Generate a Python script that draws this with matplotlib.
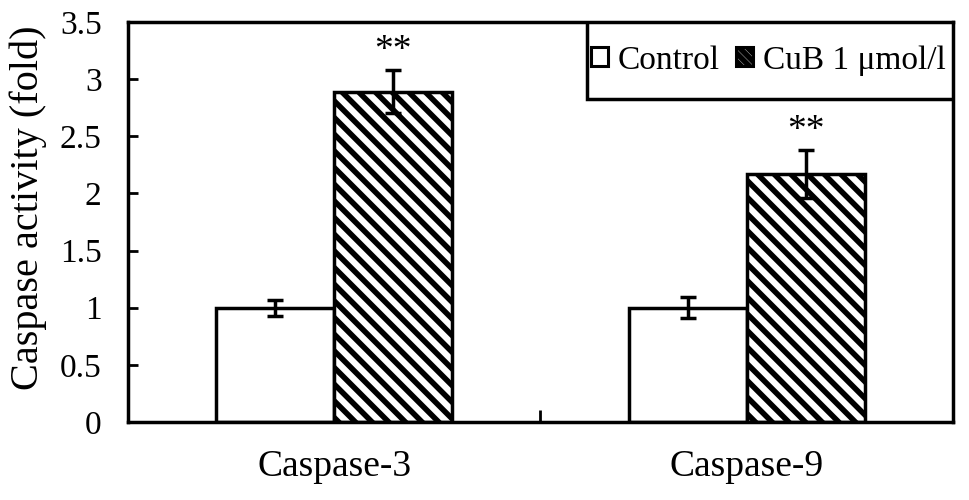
import matplotlib
matplotlib.use("Agg")
import matplotlib.pyplot as plt
import numpy as np
from matplotlib.patches import Patch, Rectangle

categories = ["Caspase-3", "Caspase-9"]
control = [1.0, 1.0]
control_err = [0.07, 0.09]
cub = [2.89, 2.17]
cub_err = [0.19, 0.21]
series_labels = ["Control", "CuB 1 \u03bcmol/l"]
yticks = [0, 0.5, 1, 1.5, 2, 2.5, 3, 3.5]
ytick_labels = ["0", "0.5", "1", "1.5", "2", "2.5", "3", "3.5"]

plt.rcParams['font.family'] = ['Liberation Serif', 'DejaVu Serif']
plt.rcParams['hatch.linewidth'] = 4.0
plt.rcParams['hatch.color'] = 'black'

W, H = 969, 500
fig = plt.figure(figsize=(W/100, H/100), dpi=100)
ax_l, ax_r, ax_t, ax_b = 128, 953, 22, 422
ax = fig.add_axes([ax_l/W, 1 - ax_b/H, (ax_r-ax_l)/W, (ax_b-ax_t)/H])

x = np.arange(len(categories))
w = 0.286
lw = 2.5
ax.bar(x - w/2, control, w, color='white', edgecolor='black', linewidth=lw, zorder=2)
ax.bar(x + w/2, cub, w, color='white', edgecolor='black', linewidth=lw, hatch='\\\\', zorder=2)
ax.errorbar(x - w/2, control, yerr=control_err, fmt='none', ecolor='black',
            elinewidth=2.5, capsize=6, capthick=2.5, zorder=3)
ax.errorbar(x + w/2, cub, yerr=cub_err, fmt='none', ecolor='black',
            elinewidth=2.5, capsize=6, capthick=2.5, zorder=3)
for xi, v, e in zip(x + w/2, cub, cub_err):
    ax.text(xi, v + e + 0.02, "**", ha='center', va='bottom', fontsize=27)

ax.set_xlim(-0.5, 1.5)
ax.set_ylim(0, 3.5)
ax.set_yticks(yticks)
ax.set_yticklabels(ytick_labels, fontsize=24)
ax.tick_params(axis='y', direction='in', length=7, width=2, pad=19)
ax.set_xticks([0.5], minor=True)
ax.set_xticks(x)
ax.set_xticklabels(categories, fontsize=27)
ax.tick_params(axis='x', which='major', length=0, pad=20)
ax.tick_params(axis='x', which='minor', direction='in', length=9, width=2)
for s in ax.spines.values():
    s.set_linewidth(2.5)
ax.set_ylabel("Caspase activity (fold)", fontsize=29)
ax.yaxis.set_label_coords(-0.098, 0.535)

# legend frame
lx0, lx1, ly0, ly1 = 587, 953, 22, 99
def to_ax(px, py):
    return (px - ax_l) / (ax_r - ax_l), (ax_b - py) / (ax_b - ax_t)
(fx0, fy1), (fx1, fy0) = to_ax(lx0, ly0), to_ax(lx1, ly1)
ax.add_patch(Rectangle((fx0, fy0), fx1 - fx0, fy1 - fy0, transform=ax.transAxes,
                       facecolor='white', edgecolor='black', linewidth=2.5, zorder=5))

handles = [Patch(facecolor='white', edgecolor='black', linewidth=2.2),
           Patch(facecolor='white', edgecolor='black', linewidth=2.2, hatch='\\\\\\\\')]
leg = ax.legend(handles, series_labels, loc='center',
                bbox_to_anchor=((fx0 + fx1) / 2 - 0.002, (fy0 + fy1) / 2), fontsize=24,
                frameon=False, handlelength=0.5, handleheight=0.5,
                handletextpad=0.3, columnspacing=0.5, ncol=2, borderaxespad=0,
                borderpad=0.0)
leg.set_zorder(6)

fig.savefig("out.png", dpi=100)
